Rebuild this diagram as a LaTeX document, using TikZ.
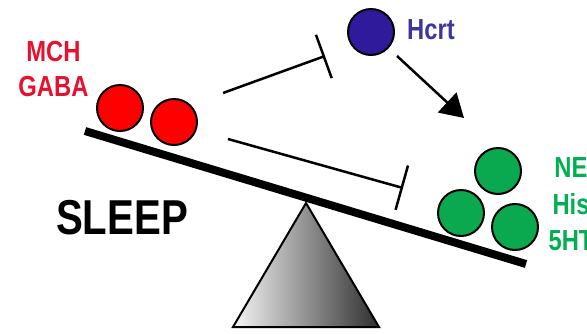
\documentclass[tikz,border=0pt]{standalone}
\usepackage{fontspec}
\usepackage{graphicx}
\setmainfont{Liberation Sans}
\usetikzlibrary{arrows.meta}

\definecolor{mchred}{HTML}{FF0000}
\definecolor{mchtext}{HTML}{E8112D}
\definecolor{hcrtblue}{HTML}{2E1A9B}
\definecolor{hcrttext}{HTML}{3D35A0}
\definecolor{monogreen}{HTML}{0AA84F}
\definecolor{monotext}{HTML}{00B050}

\tikzset{
  ball/.style={circle, draw=black, line width=2pt, minimum size=46pt, inner sep=0pt},
  lbl/.style={anchor=base, inner sep=0pt, font=\fontsize{29}{29}\selectfont\bfseries},
  inhibit/.style={line width=2.5pt, -{Bar[width=46pt, line width=2.5pt]}},
  excite/.style={line width=2.5pt, -{Triangle[length=23pt, width=27pt]}},
}
\newcommand{\narrow}[1]{\scalebox{0.82}[1]{#1}}

\begin{document}
\begin{tikzpicture}[x=1pt, y=-1pt]
  \useasboundingbox (0,0) rectangle (587,333);

  % fulcrum
  \shadedraw[left color=gray!8, right color=black!82, draw=black, line width=2pt, line join=miter]
    (306,203) -- (233,327) -- (379,327) -- cycle;

  % beam of the balance
  \coordinate (beamL) at (85,131);
  \coordinate (beamR) at (526,264);
  \draw[line width=8pt] (beamL) -- (beamR);

  % sleep-promoting side
  \node[ball, fill=mchred] (mch1) at (120,108) {};
  \node[ball, fill=mchred] (mch2) at (174,122) {};
  \node[lbl, text=mchtext] (mchlbl) at (53.5,61) {\narrow{MCH}};
  \node[lbl, text=mchtext] (gabalbl) at (53.5,96) {\narrow{GABA}};

  % orexin
  \node[ball, fill=hcrtblue] (hcrt) at (371,32) {};
  \node[lbl, anchor=base west, text=hcrttext] (hcrtlbl) at (407,39) {\narrow{Hcrt}};

  % wake-promoting monoamines
  \node[ball, fill=monogreen] (ne) at (498,171) {};
  \node[ball, fill=monogreen] (his) at (461,213) {};
  \node[ball, fill=monogreen] (sht) at (515,227) {};
  \node[lbl, text=monotext] (nelbl) at (571,177) {\narrow{NE}};
  \node[lbl, text=monotext] (hislbl) at (571,214) {\narrow{His}};
  \node[lbl, text=monotext] (shtlbl) at (571,250) {\narrow{5HT}};

  \node[lbl, font=\fontsize{49}{49}\selectfont\bfseries] (sleep) at (122,234) {\narrow{SLEEP}};

  % connectors
  \coordinate (inhA0) at (223,93);
  \coordinate (inhA1) at (325,56);
  \coordinate (inhB0) at (228,139);
  \coordinate (inhB1) at (403,188);
  \coordinate (exc0) at (397,56);
  \coordinate (exc1) at (464,118);
  \draw[inhibit] (inhA0) -- (inhA1);
  \draw[inhibit] (inhB0) -- (inhB1);
  \draw[excite] (exc0) -- (exc1);
\end{tikzpicture}
\end{document}
